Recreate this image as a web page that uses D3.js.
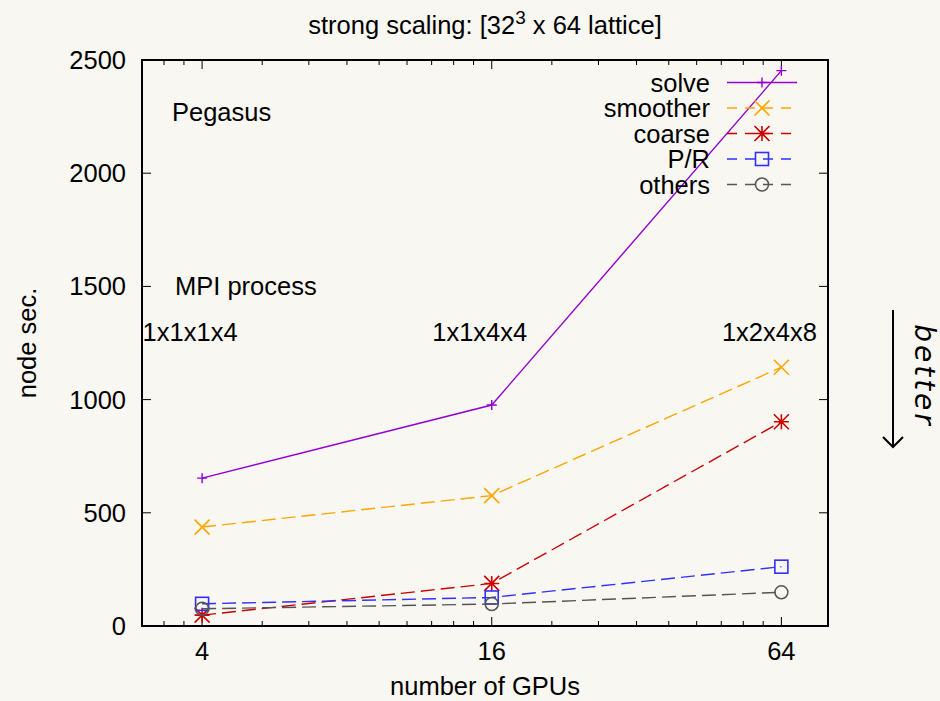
<!DOCTYPE html>
<html>
<head>
<meta charset="utf-8">
<script src="https://cdn.jsdelivr.net/npm/d3@7"></script>
<style>
  html, body { margin: 0; padding: 0; background: #f8f7f1; }
  svg { display: block; }
  text { font-family: "Liberation Sans", Arial, sans-serif; fill: #000; }
</style>
</head>
<body>
<svg id="chart" width="940" height="701"></svg>
<script>
// ---- data ----
const gpus = [4, 16, 64];
const solve    = [653, 976, 2453];
const smoother = [437, 576, 1143];
const coarse   = [48, 188, 902];
const pr       = [98, 126, 262];
const others   = [76, 97, 149];
const seriesNames = ["solve", "smoother", "coarse", "P/R", "others"];
const xTickLabels = ["4", "16", "64"];
const yTickValues = [0, 500, 1000, 1500, 2000, 2500];
const mpiLabels = ["1x1x1x4", "1x1x4x4", "1x2x4x8"];
const titleMain = "strong scaling: [32";
const titleSup = "3";
const titleRest = " x 64 lattice]";

// ---- styles ----
const DASH = "14,6";
const styles = [
  { data: solve,    color: "#9400d3", dash: null, marker: "plus" },
  { data: smoother, color: "#ffa500", dash: DASH, marker: "cross" },
  { data: coarse,   color: "#cc0000", dash: DASH, marker: "star" },
  { data: pr,       color: "#3030ff", dash: DASH, marker: "square" },
  { data: others,   color: "#555555", dash: DASH, marker: "circle" }
];

const svg = d3.select("#chart");
const L = 142, R = 828, T = 60, B = 626;

const x = d3.scaleLog().base(2).domain([3, 80]).range([L, R]);
const y = d3.scaleLinear().domain([0, 2500]).range([B, T]);

// minor ticks (gnuplot log-base-4 style subdivisions)
const minor = [];
[1, 4, 16, 64].forEach(b => {
  for (let k = 1; k <= 8; k++) {
    const v = b + k * (3 * b) / 9;
    if (v > 3.01 && v < 79.9) minor.push(v);
  }
});

const axisG = svg.append("g");
const tickStroke = "#000";
gpus.forEach(v => {
  axisG.append("line").attr("x1", x(v)).attr("x2", x(v)).attr("y1", B).attr("y2", B - 9).attr("stroke", tickStroke);
  axisG.append("line").attr("x1", x(v)).attr("x2", x(v)).attr("y1", T).attr("y2", T + 9).attr("stroke", tickStroke);
});
minor.forEach(v => {
  axisG.append("line").attr("x1", x(v)).attr("x2", x(v)).attr("y1", B).attr("y2", B - 5).attr("stroke", tickStroke);
  axisG.append("line").attr("x1", x(v)).attr("x2", x(v)).attr("y1", T).attr("y2", T + 5).attr("stroke", tickStroke);
});
yTickValues.forEach(v => {
  axisG.append("line").attr("x1", L).attr("x2", L + 9).attr("y1", y(v)).attr("y2", y(v)).attr("stroke", tickStroke);
  axisG.append("line").attr("x1", R).attr("x2", R - 9).attr("y1", y(v)).attr("y2", y(v)).attr("stroke", tickStroke);
});

// tick labels
const FS = 25.5;
gpus.forEach((v, i) => {
  svg.append("text").attr("x", x(v)).attr("y", 651).attr("text-anchor", "middle")
    .attr("dominant-baseline", "central").style("font-size", FS + "px").text(xTickLabels[i]);
});
yTickValues.forEach(v => {
  svg.append("text").attr("x", 126).attr("y", y(v)).attr("text-anchor", "end")
    .attr("dominant-baseline", "central").style("font-size", FS + "px").text(v);
});

// frame
svg.append("rect").attr("x", L).attr("y", T).attr("width", R - L).attr("height", B - T)
  .attr("fill", "none").attr("stroke", "#000").attr("stroke-width", 2);

// markers
function drawMarker(g, type, cx, cy, color) {
  if (type === "plus") {
    const s = 5;
    g.append("path").attr("d", `M${cx - s},${cy}H${cx + s}M${cx},${cy - s}V${cy + s}`)
      .attr("stroke", color).attr("stroke-width", 1.4).attr("fill", "none");
  } else if (type === "cross") {
    const s = 7.5;
    g.append("path").attr("d", `M${cx - s},${cy - s}L${cx + s},${cy + s}M${cx - s},${cy + s}L${cx + s},${cy - s}`)
      .attr("stroke", color).attr("stroke-width", 1.6).attr("fill", "none");
  } else if (type === "star") {
    const s = 7.5;
    g.append("path").attr("d", `M${cx - s},${cy}H${cx + s}M${cx},${cy - s}V${cy + s}M${cx - s},${cy - s}L${cx + s},${cy + s}M${cx - s},${cy + s}L${cx + s},${cy - s}`)
      .attr("stroke", color).attr("stroke-width", 1.6).attr("fill", "none");
  } else if (type === "square") {
    const s = 6.5;
    g.append("rect").attr("x", cx - s).attr("y", cy - s).attr("width", 2 * s).attr("height", 2 * s)
      .attr("stroke", color).attr("stroke-width", 1.6).attr("fill", "none");
  } else if (type === "circle") {
    g.append("circle").attr("cx", cx).attr("cy", cy).attr("r", 6.5)
      .attr("stroke", color).attr("stroke-width", 1.5).attr("fill", "none");
  }
}

// series
const line = d3.line().x((d, i) => x(gpus[i])).y(d => y(d));
const seriesG = svg.append("g");
styles.forEach(s => {
  seriesG.append("path").datum(s.data).attr("d", line)
    .attr("fill", "none").attr("stroke", s.color).attr("stroke-width", 1.4)
    .attr("stroke-dasharray", s.dash);
  s.data.forEach((d, i) => drawMarker(seriesG, s.marker, x(gpus[i]), y(d), s.color));
});

// legend
const legG = svg.append("g");
seriesNames.forEach((name, i) => {
  const ly = 82.5 + i * 25.5;
  legG.append("text").attr("x", 710).attr("y", ly).attr("text-anchor", "end")
    .attr("dominant-baseline", "central").style("font-size", FS + "px").text(name);
  legG.append("line").attr("x1", 727).attr("x2", 797).attr("y1", ly).attr("y2", ly)
    .attr("stroke", styles[i].color).attr("stroke-width", 1.4).attr("stroke-dasharray", styles[i].dash ? "10,8" : null);
  drawMarker(legG, styles[i].marker, 762, ly, styles[i].color);
});

// annotations
svg.append("text").attr("x", 172).attr("y", y(2270)).attr("dominant-baseline", "central")
  .style("font-size", FS + "px").text("Pegasus");
svg.append("text").attr("x", 175).attr("y", y(1500)).attr("dominant-baseline", "central")
  .style("font-size", FS + "px").text("MPI process");
gpus.forEach((v, i) => {
  svg.append("text").attr("x", x(v) - 12).attr("y", y(1300)).attr("text-anchor", "middle")
    .attr("dominant-baseline", "central").style("font-size", FS + "px").text(mpiLabels[i]);
});

// title
const tt = svg.append("text").attr("x", 485).attr("y", 34).attr("text-anchor", "middle")
  .style("font-size", FS + "px");
tt.append("tspan").text(titleMain);
tt.append("tspan").attr("dy", -10).style("font-size", "19px").text(titleSup);
tt.append("tspan").attr("dy", 10).text(titleRest);

// axis labels
svg.append("text").attr("x", 485).attr("y", 686).attr("text-anchor", "middle")
  .attr("dominant-baseline", "central").style("font-size", FS + "px").text("number of GPUs");
svg.append("text").attr("transform", `translate(27,${(T + B) / 2}) rotate(-90)`)
  .attr("text-anchor", "middle").attr("dominant-baseline", "central")
  .style("font-size", FS + "px").text("node sec.");

// "better" arrow
svg.append("path").attr("d", "M893,310V447M883,437L893,447L903,437")
  .attr("stroke", "#000").attr("stroke-width", 2).attr("fill", "none");
svg.append("text").attr("transform", "translate(924,376) rotate(90)")
  .attr("text-anchor", "middle").attr("dominant-baseline", "central")
  .style("font-family", "'DejaVu Sans', sans-serif").style("font-style", "italic")
  .style("font-size", "28px").style("letter-spacing", "3px").text("better");
</script>
</body>
</html>
